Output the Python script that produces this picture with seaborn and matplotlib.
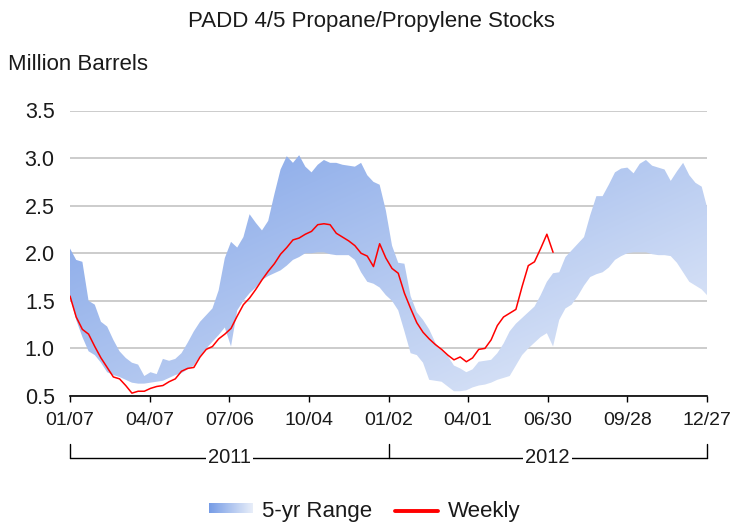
import numpy as np
import pandas as pd
import matplotlib
matplotlib.use("Agg")
import matplotlib.pyplot as plt
import seaborn as sns
from matplotlib.colors import LinearSegmentedColormap
from matplotlib.lines import Line2D

# weekly values, million barrels, week 0 = 01/07/2011
range_high = [2.05, 1.93, 1.91, 1.50, 1.46, 1.28, 1.23, 1.09, 0.97, 0.90,
              0.85, 0.83, 0.71, 0.75, 0.73, 0.89, 0.87, 0.89, 0.95, 1.06,
              1.18, 1.28, 1.35, 1.42, 1.61, 1.95, 2.12, 2.06, 2.17, 2.41,
              2.32, 2.24, 2.34, 2.62, 2.88, 3.02, 2.95, 3.03, 2.91, 2.85,
              2.93, 2.98, 2.95, 2.95, 2.93, 2.92, 2.91, 2.95, 2.82, 2.75,
              2.72, 2.45, 2.08, 1.90, 1.89, 1.55, 1.38, 1.30, 1.20, 1.06,
              0.98, 0.92, 0.82, 0.79, 0.75, 0.78, 0.86, 0.87, 0.88, 0.95,
              1.05, 1.18, 1.26, 1.32, 1.38, 1.44, 1.56, 1.70, 1.79, 1.80,
              1.96, 2.03, 2.10, 2.17, 2.40, 2.60, 2.60, 2.72, 2.85, 2.89,
              2.90, 2.84, 2.94, 2.98, 2.92, 2.90, 2.88, 2.76, 2.86, 2.95,
              2.82, 2.74, 2.70, 2.45]
range_low = [1.55, 1.30, 1.12, 0.97, 0.93, 0.85, 0.75, 0.72, 0.70, 0.67,
             0.64, 0.63, 0.63, 0.64, 0.65, 0.66, 0.69, 0.72, 0.74, 0.78,
             0.82, 0.92, 1.00, 1.07, 1.14, 1.22, 1.02, 1.40, 1.50, 1.58,
             1.64, 1.72, 1.76, 1.79, 1.82, 1.87, 1.93, 1.96, 2.00, 2.00,
             2.01, 2.01, 1.99, 1.98, 1.98, 1.98, 1.93, 1.80, 1.70, 1.68,
             1.64, 1.56, 1.50, 1.40, 1.18, 0.95, 0.93, 0.85, 0.67, 0.66,
             0.65, 0.60, 0.55, 0.55, 0.56, 0.59, 0.61, 0.62, 0.64, 0.67,
             0.69, 0.71, 0.82, 0.93, 1.00, 1.06, 1.12, 1.16, 1.02, 1.30,
             1.42, 1.46, 1.55, 1.66, 1.75, 1.78, 1.80, 1.85, 1.93, 1.97,
             2.00, 2.01, 2.01, 2.01, 1.99, 1.98, 1.98, 1.97, 1.90, 1.80,
             1.70, 1.66, 1.62, 1.55]
weekly = [1.55, 1.33, 1.20, 1.15, 1.02, 0.90, 0.80, 0.70, 0.68, 0.61,
          0.53, 0.55, 0.55, 0.58, 0.60, 0.61, 0.65, 0.68, 0.76, 0.79,
          0.80, 0.91, 0.99, 1.02, 1.10, 1.15, 1.21, 1.34, 1.46, 1.53,
          1.62, 1.72, 1.81, 1.89, 1.99, 2.06, 2.14, 2.16, 2.20, 2.23,
          2.30, 2.31, 2.30, 2.21, 2.17, 2.13, 2.08, 2.00, 1.97, 1.86,
          2.10, 1.95, 1.84, 1.79, 1.58, 1.42, 1.27, 1.17, 1.10, 1.04,
          0.99, 0.93, 0.88, 0.91, 0.86, 0.90, 0.99, 1.00, 1.09, 1.24,
          1.33, 1.37, 1.41, 1.65, 1.87, 1.91, 2.05, 2.20, 2.01]

tick_labels = ["01/07", "04/07", "07/06", "10/04", "01/02",
               "04/01", "06/30", "09/28", "12/27"]
year_labels = ["2011", "2012"]
y_ticks = [0.5, 1.0, 1.5, 2.0, 2.5, 3.0, 3.5]

sns.set_style("white")
plt.rcParams['font.family'] = ['Liberation Sans', 'DejaVu Sans']
txt = '#1a1a1a'

W, H = 730, 524
fig = plt.figure(figsize=(W / 100, H / 100), dpi=100)
ax = fig.add_axes([70 / W, 1 - 396 / H, (707 - 70) / W, (396 - 110.5) / H])

xmax = 720 / 7  # ticks every 90 days
ticks = [k * 90 / 7 for k in range(len(tick_labels))]

# 5-yr range band with a diagonal gradient
weeks = np.arange(len(range_high))
band = ax.fill_between(weeks, range_low, range_high, facecolor='none',
                       edgecolor='none')
cmap = LinearSegmentedColormap.from_list('band', ['#769ce6', '#e8eef9'])
gx, gy = np.meshgrid(np.linspace(0, 1, 400), np.linspace(0, 1, 400))
grad = 0.5 * gx + 0.5 * (1 - gy)
img = ax.imshow(grad, cmap=cmap, extent=[0, xmax, 0.5, 3.5], origin='lower',
                aspect='auto', zorder=1, interpolation='bilinear')
img.set_clip_path(band.get_paths()[0], transform=ax.transData)

df = pd.DataFrame({"week": np.arange(len(weekly)), "stocks": weekly})
sns.lineplot(data=df, x="week", y="stocks", color='#ff0000', lw=1.1,
             ax=ax, zorder=3)

ax.set_xlim(0, xmax)
ax.set_ylim(0.5, 3.5)
ax.set_xlabel("")
ax.set_ylabel("")
ax.set_yticks(y_ticks)
ax.set_yticklabels([f"{v:.1f}" for v in y_ticks], fontsize=15.5, color=txt)
ax.set_xticks(ticks)
ax.set_xticklabels(tick_labels, fontsize=14, color=txt)
ax.yaxis.grid(True, color='#c8c8c8', lw=1.3, zorder=0)
ax.set_axisbelow(True)
for s in ['left', 'top', 'right']:
    ax.spines[s].set_visible(False)
ax.spines['bottom'].set_color('black')
ax.spines['bottom'].set_linewidth(1.2)
ax.spines['bottom'].set_zorder(4)
ax.tick_params(axis='y', length=6, width=0.95, color='#c8c8c8', pad=5)
ax.tick_params(axis='x', length=4.5, width=1.0, color='black', pad=7,
               direction='out', bottom=True)

# year brackets under the axis
tr = ax.get_xaxis_transform()
h = 396 - 110.5
yb = (396 - 457.5) / h
yt = (396 - 444) / h
ax.add_line(Line2D([0, xmax], [yb, yb], transform=tr, color='black',
                   lw=1.0, clip_on=False))
for xv in [0, xmax / 2, xmax]:
    ax.add_line(Line2D([xv, xv], [yt, yb], transform=tr, color='black',
                       lw=1.0, clip_on=False))
for i, lab in enumerate(year_labels):
    ax.text(xmax / 4 + i * xmax / 2, yb, lab, transform=tr, ha='center',
            va='center', fontsize=14.5, color=txt,
            bbox=dict(facecolor='white', edgecolor='none', pad=1.5))

fig.text(371 / W, 1 - 21 / H, "PADD 4/5 Propane/Propylene Stocks",
         ha='center', va='center', fontsize=16, color=txt)
fig.text(8 / W, 1 - 64 / H, "Million Barrels", ha='left', va='center',
         fontsize=16, color=txt)

# legend
lax = fig.add_axes([209 / W, 1 - 513 / H, 44 / W, 10 / H])
lax.imshow(np.linspace(0, 1, 100).reshape(1, -1), cmap=cmap, aspect='auto',
           extent=[0, 1, 0, 1])
lax.axis('off')
fig.text(262 / W, 1 - 512 / H, "5-yr Range", ha='left', va='center',
         fontsize=16, color=txt)
fig.add_artist(Line2D([395 / W, 438 / W], [1 - 510.5 / H, 1 - 510.5 / H],
                      color='#ff0000', lw=2.8))
fig.text(448 / W, 1 - 512 / H, "Weekly", ha='left', va='center',
         fontsize=16, color=txt)

fig.savefig("out.png", dpi=100)
